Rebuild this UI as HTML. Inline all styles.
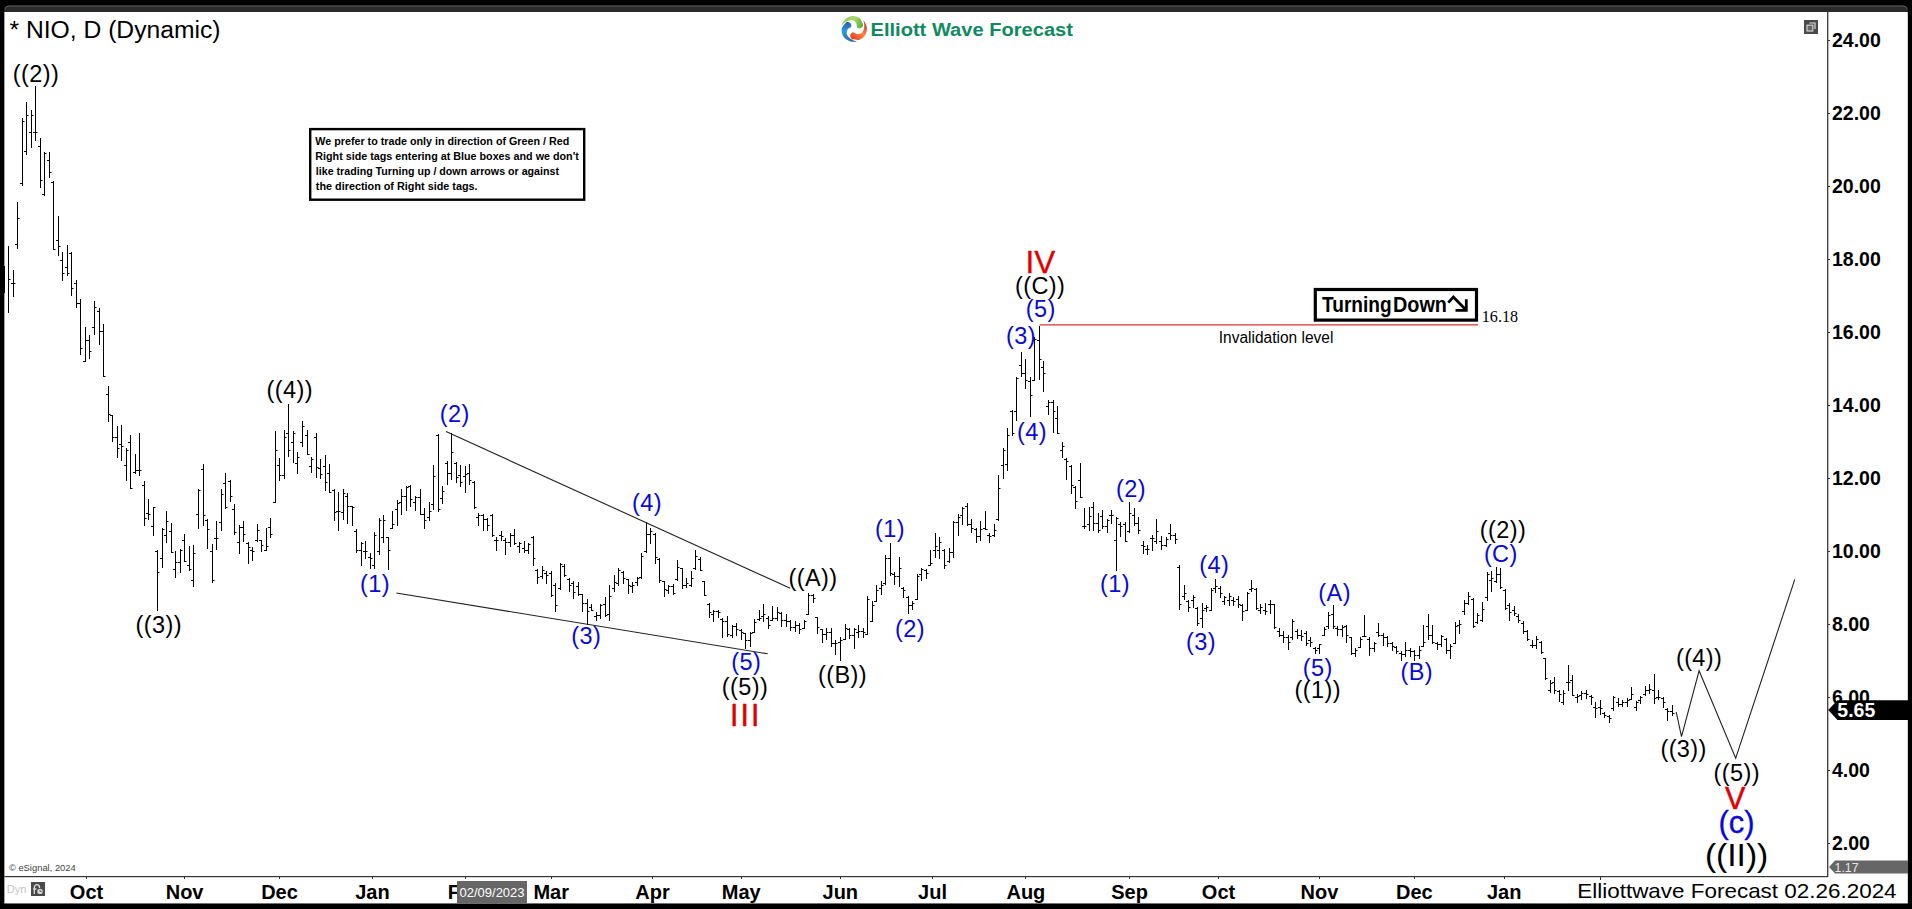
<!DOCTYPE html>
<html><head><meta charset="utf-8"><title>NIO Elliott Wave Chart</title>
<style>
html,body{margin:0;padding:0;background:#000;}
body{width:1912px;height:909px;overflow:hidden;position:relative;}
svg{display:block;position:absolute;left:0;top:0;}
svg text{font-family:"Liberation Sans",Arial,sans-serif;}
.serif{font-family:"Liberation Serif","Times New Roman",serif !important;}
</style></head><body>
<svg width="1912" height="909" viewBox="0 0 1912 909">
<rect x="0" y="0" width="1912" height="909" fill="#000"/>
<!-- window frame -->
<path d="M4.4 903.4 V10 Q4.4 5.5 9 5.5 H1903 Q1907.8 5.5 1907.8 10 V903.4 Z" fill="#2a2a2a"/>
<path d="M5 9.5 Q5 6 9 6 H1903 Q1907 6 1907 9.5" fill="none" stroke="#5a5a5a" stroke-width="1"/>
<rect x="4.4" y="12" width="1903.4" height="891.4" fill="#fff"/>
<!-- axes -->
<rect x="1827" y="12" width="1.4" height="865" fill="#444"/>
<rect x="4.5" y="876" width="1823.5" height="1.2" fill="#333"/>
<g fill="#000">
<rect x="1828" y="843" width="2" height="1" fill="#333"/>
<text x="1832" y="850.0" font-size="19.5" font-weight="bold">2.00</text>
<rect x="1828" y="770" width="2" height="1" fill="#333"/>
<text x="1832" y="777.0" font-size="19.5" font-weight="bold">4.00</text>
<rect x="1828" y="697" width="2" height="1" fill="#333"/>
<text x="1832" y="704.0" font-size="19.5" font-weight="bold">6.00</text>
<rect x="1828" y="624" width="2" height="1" fill="#333"/>
<text x="1832" y="631.0" font-size="19.5" font-weight="bold">8.00</text>
<rect x="1828" y="551" width="2" height="1" fill="#333"/>
<text x="1832" y="558.0" font-size="19.5" font-weight="bold">10.00</text>
<rect x="1828" y="478" width="2" height="1" fill="#333"/>
<text x="1832" y="485.0" font-size="19.5" font-weight="bold">12.00</text>
<rect x="1828" y="405" width="2" height="1" fill="#333"/>
<text x="1832" y="412.0" font-size="19.5" font-weight="bold">14.00</text>
<rect x="1828" y="332" width="2" height="1" fill="#333"/>
<text x="1832" y="339.0" font-size="19.5" font-weight="bold">16.00</text>
<rect x="1828" y="259" width="2" height="1" fill="#333"/>
<text x="1832" y="266.0" font-size="19.5" font-weight="bold">18.00</text>
<rect x="1828" y="186" width="2" height="1" fill="#333"/>
<text x="1832" y="193.0" font-size="19.5" font-weight="bold">20.00</text>
<rect x="1828" y="113" width="2" height="1" fill="#333"/>
<text x="1832" y="120.0" font-size="19.5" font-weight="bold">22.00</text>
<rect x="1828" y="40" width="2" height="1" fill="#333"/>
<text x="1832" y="47.0" font-size="19.5" font-weight="bold">24.00</text>
<rect x="86" y="877" width="1" height="2" fill="#333"/>
<text x="86.5" y="898.6" text-anchor="middle" font-size="20" font-weight="bold">Oct</text>
<rect x="184" y="877" width="1" height="2" fill="#333"/>
<text x="184.6" y="898.6" text-anchor="middle" font-size="20" font-weight="bold">Nov</text>
<rect x="279" y="877" width="1" height="2" fill="#333"/>
<text x="279.5" y="898.6" text-anchor="middle" font-size="20" font-weight="bold">Dec</text>
<rect x="372" y="877" width="1" height="2" fill="#333"/>
<text x="372.4" y="898.6" text-anchor="middle" font-size="20" font-weight="bold">Jan</text>
<rect x="465" y="877" width="1" height="2" fill="#333"/>
<text x="465.6" y="898.6" text-anchor="middle" font-size="20" font-weight="bold">Feb</text>
<rect x="551" y="877" width="1" height="2" fill="#333"/>
<text x="551.2" y="898.6" text-anchor="middle" font-size="20" font-weight="bold">Mar</text>
<rect x="652" y="877" width="1" height="2" fill="#333"/>
<text x="652.5" y="898.6" text-anchor="middle" font-size="20" font-weight="bold">Apr</text>
<rect x="741" y="877" width="1" height="2" fill="#333"/>
<text x="741.2" y="898.6" text-anchor="middle" font-size="20" font-weight="bold">May</text>
<rect x="840" y="877" width="1" height="2" fill="#333"/>
<text x="840.3" y="898.6" text-anchor="middle" font-size="20" font-weight="bold">Jun</text>
<rect x="932" y="877" width="1" height="2" fill="#333"/>
<text x="932.5" y="898.6" text-anchor="middle" font-size="20" font-weight="bold">Jul</text>
<rect x="1025" y="877" width="1" height="2" fill="#333"/>
<text x="1025.9" y="898.6" text-anchor="middle" font-size="20" font-weight="bold">Aug</text>
<rect x="1129" y="877" width="1" height="2" fill="#333"/>
<text x="1129.6" y="898.6" text-anchor="middle" font-size="20" font-weight="bold">Sep</text>
<rect x="1218" y="877" width="1" height="2" fill="#333"/>
<text x="1218.5" y="898.6" text-anchor="middle" font-size="20" font-weight="bold">Oct</text>
<rect x="1319" y="877" width="1" height="2" fill="#333"/>
<text x="1319.4" y="898.6" text-anchor="middle" font-size="20" font-weight="bold">Nov</text>
<rect x="1414" y="877" width="1" height="2" fill="#333"/>
<text x="1414.3" y="898.6" text-anchor="middle" font-size="20" font-weight="bold">Dec</text>
<rect x="1504" y="877" width="1" height="2" fill="#333"/>
<text x="1504.2" y="898.6" text-anchor="middle" font-size="20" font-weight="bold">Jan</text>
<rect x="1600" y="877" width="1" height="2" fill="#333"/>
</g>
<!-- title -->
<text x="9.5" y="38" font-size="23.5" fill="#000" textLength="211" lengthAdjust="spacingAndGlyphs">* NIO, D (Dynamic)</text>
<!-- logo -->
<g transform="translate(853.9 28.9)">
<defs>
<linearGradient id="gG" gradientUnits="userSpaceOnUse" x1="-11" y1="-8" x2="8" y2="-2"><stop offset="0" stop-color="#9ccf62"/><stop offset="0.55" stop-color="#a6d36a"/><stop offset="1" stop-color="#55b53a"/></linearGradient>
<linearGradient id="gB" gradientUnits="userSpaceOnUse" x1="-6" y1="-7" x2="-4" y2="12"><stop offset="0" stop-color="#2c55a6"/><stop offset="0.45" stop-color="#2f9ad8"/><stop offset="1" stop-color="#2a6fb0"/></linearGradient>
<linearGradient id="gR" gradientUnits="userSpaceOnUse" x1="-4" y1="8" x2="11" y2="-7"><stop offset="0" stop-color="#ee3a1e"/><stop offset="0.55" stop-color="#f58a4a"/><stop offset="1" stop-color="#cf2a2a"/></linearGradient>
</defs>
<path d="M-3.40 5.66 C-3.68 6.57 -3.63 8.19 -3.09 8.98 C-2.56 9.77 -1.65 10.10 -0.18 10.40 C1.29 10.70 3.77 11.52 5.73 10.77 C7.69 10.02 10.39 8.00 11.58 5.90 C12.77 3.81 13.18 0.58 12.87 -1.81 C12.57 -4.20 10.15 -8.03 9.74 -8.46 C9.32 -8.90 10.38 -5.88 10.40 -4.42 C10.43 -2.95 10.37 -1.09 9.89 0.35 C9.41 1.78 8.60 3.35 7.52 4.17 C6.44 4.99 4.61 5.33 3.43 5.28 C2.26 5.23 1.28 4.16 0.48 3.87 C-0.33 3.58 -0.78 3.23 -1.42 3.52 C-2.07 3.82 -3.12 4.75 -3.40 5.66Z" fill="url(#gR)"/>
<path d="M-3.50 -5.60 C-4.18 -6.26 -5.65 -6.95 -6.60 -6.83 C-7.55 -6.71 -8.25 -6.06 -9.18 -4.88 C-10.12 -3.71 -11.98 -1.87 -12.20 0.21 C-12.42 2.30 -11.84 5.63 -10.52 7.64 C-9.19 9.65 -6.51 11.48 -4.23 12.29 C-1.96 13.10 2.55 12.69 3.12 12.52 C3.69 12.35 0.53 11.92 -0.79 11.27 C-2.11 10.63 -3.74 9.74 -4.80 8.66 C-5.86 7.58 -6.89 6.14 -7.13 4.81 C-7.37 3.48 -6.84 1.68 -6.27 0.66 C-5.69 -0.37 -4.29 -0.75 -3.66 -1.33 C-3.04 -1.92 -2.52 -2.16 -2.49 -2.87 C-2.47 -3.58 -2.81 -4.94 -3.50 -5.60Z" fill="url(#gB)"/>
<path d="M6.57 -0.58 C7.47 -0.88 8.76 -1.88 9.08 -2.78 C9.41 -3.68 9.14 -4.60 8.52 -5.97 C7.90 -7.33 7.11 -9.82 5.35 -10.97 C3.59 -12.11 0.36 -13.11 -2.03 -12.84 C-4.43 -12.57 -7.27 -11.01 -9.03 -9.35 C-10.79 -7.70 -12.46 -3.49 -12.57 -2.90 C-12.68 -2.31 -10.86 -4.94 -9.69 -5.82 C-8.51 -6.70 -6.98 -7.75 -5.54 -8.21 C-4.10 -8.66 -2.35 -8.92 -1.05 -8.54 C0.25 -8.15 1.61 -6.86 2.26 -5.88 C2.91 -4.90 2.61 -3.49 2.85 -2.66 C3.09 -1.83 3.07 -1.27 3.69 -0.92 C4.31 -0.57 5.68 -0.27 6.57 -0.58Z" fill="url(#gG)"/>
</g>
<text x="870.5" y="36.2" font-size="18" font-weight="bold" fill="#108a5e" textLength="202.5" lengthAdjust="spacingAndGlyphs">Elliott Wave Forecast</text>
<!-- top-right icon -->
<rect x="1804" y="20" width="14" height="14" fill="#4a4a4a"/>
<path d="M1809.5 23 H1815 V29" fill="none" stroke="#ddd" stroke-width="1.2"/>
<rect x="1807" y="25.2" width="5.8" height="5.8" fill="#666" stroke="#d0d0d0" stroke-width="1.2"/>
<!-- bars -->
<g fill="#000" shape-rendering="crispEdges">
<rect x="4" y="266" width="1" height="27"/>
<rect x="8" y="246" width="1" height="67"/>
<rect x="9" y="279" width="1.5" height="1" shape-rendering="auto"/>
<rect x="13" y="270" width="1" height="27"/>
<rect x="11" y="283" width="2" height="1"/>
<rect x="14" y="283" width="1.5" height="1" shape-rendering="auto"/>
<rect x="17" y="202" width="1" height="47"/>
<rect x="15" y="244" width="2" height="1"/>
<rect x="18" y="218" width="1.5" height="1" shape-rendering="auto"/>
<rect x="22" y="118" width="1" height="68"/>
<rect x="20" y="183" width="2" height="1"/>
<rect x="23" y="121" width="1.5" height="1" shape-rendering="auto"/>
<rect x="26" y="102" width="1" height="53"/>
<rect x="24" y="151" width="2" height="1"/>
<rect x="27" y="115" width="1.5" height="1" shape-rendering="auto"/>
<rect x="31" y="110" width="1" height="38"/>
<rect x="29" y="132" width="2" height="1"/>
<rect x="32" y="115" width="1.5" height="1" shape-rendering="auto"/>
<rect x="35" y="86" width="1" height="55"/>
<rect x="33" y="132" width="2" height="1"/>
<rect x="36" y="132" width="1.5" height="1" shape-rendering="auto"/>
<rect x="40" y="138" width="1" height="50"/>
<rect x="38" y="146" width="2" height="1"/>
<rect x="41" y="180" width="1.5" height="1" shape-rendering="auto"/>
<rect x="44" y="152" width="1" height="44"/>
<rect x="42" y="194" width="2" height="1"/>
<rect x="45" y="153" width="1.5" height="1" shape-rendering="auto"/>
<rect x="49" y="152" width="1" height="26"/>
<rect x="47" y="160" width="2" height="1"/>
<rect x="50" y="172" width="1.5" height="1" shape-rendering="auto"/>
<rect x="53" y="181" width="1" height="69"/>
<rect x="51" y="182" width="2" height="1"/>
<rect x="54" y="249" width="1.5" height="1" shape-rendering="auto"/>
<rect x="58" y="216" width="1" height="40"/>
<rect x="56" y="240" width="2" height="1"/>
<rect x="59" y="246" width="1.5" height="1" shape-rendering="auto"/>
<rect x="62" y="252" width="1" height="29"/>
<rect x="60" y="260" width="2" height="1"/>
<rect x="63" y="273" width="1.5" height="1" shape-rendering="auto"/>
<rect x="67" y="245" width="1" height="31"/>
<rect x="65" y="267" width="2" height="1"/>
<rect x="68" y="273" width="1.5" height="1" shape-rendering="auto"/>
<rect x="71" y="252" width="1" height="44"/>
<rect x="69" y="253" width="2" height="1"/>
<rect x="72" y="288" width="1.5" height="1" shape-rendering="auto"/>
<rect x="76" y="280" width="1" height="28"/>
<rect x="74" y="283" width="2" height="1"/>
<rect x="77" y="303" width="1.5" height="1" shape-rendering="auto"/>
<rect x="80" y="299" width="1" height="56"/>
<rect x="78" y="303" width="2" height="1"/>
<rect x="81" y="348" width="1.5" height="1" shape-rendering="auto"/>
<rect x="85" y="327" width="1" height="35"/>
<rect x="83" y="361" width="2" height="1"/>
<rect x="86" y="340" width="1.5" height="1" shape-rendering="auto"/>
<rect x="89" y="335" width="1" height="24"/>
<rect x="87" y="340" width="2" height="1"/>
<rect x="90" y="351" width="1.5" height="1" shape-rendering="auto"/>
<rect x="94" y="301" width="1" height="34"/>
<rect x="92" y="327" width="2" height="1"/>
<rect x="95" y="307" width="1.5" height="1" shape-rendering="auto"/>
<rect x="99" y="308" width="1" height="37"/>
<rect x="97" y="311" width="2" height="1"/>
<rect x="100" y="331" width="1.5" height="1" shape-rendering="auto"/>
<rect x="103" y="324" width="1" height="53"/>
<rect x="101" y="331" width="2" height="1"/>
<rect x="104" y="376" width="1.5" height="1" shape-rendering="auto"/>
<rect x="108" y="386" width="1" height="36"/>
<rect x="106" y="394" width="2" height="1"/>
<rect x="109" y="414" width="1.5" height="1" shape-rendering="auto"/>
<rect x="112" y="415" width="1" height="27"/>
<rect x="110" y="415" width="2" height="1"/>
<rect x="113" y="437" width="1.5" height="1" shape-rendering="auto"/>
<rect x="117" y="426" width="1" height="32"/>
<rect x="115" y="437" width="2" height="1"/>
<rect x="118" y="448" width="1.5" height="1" shape-rendering="auto"/>
<rect x="121" y="425" width="1" height="36"/>
<rect x="119" y="444" width="2" height="1"/>
<rect x="122" y="446" width="1.5" height="1" shape-rendering="auto"/>
<rect x="126" y="448" width="1" height="33"/>
<rect x="124" y="465" width="2" height="1"/>
<rect x="127" y="450" width="1.5" height="1" shape-rendering="auto"/>
<rect x="130" y="435" width="1" height="54"/>
<rect x="128" y="442" width="2" height="1"/>
<rect x="131" y="488" width="1.5" height="1" shape-rendering="auto"/>
<rect x="135" y="454" width="1" height="20"/>
<rect x="133" y="472" width="2" height="1"/>
<rect x="136" y="470" width="1.5" height="1" shape-rendering="auto"/>
<rect x="139" y="433" width="1" height="43"/>
<rect x="137" y="470" width="2" height="1"/>
<rect x="140" y="470" width="1.5" height="1" shape-rendering="auto"/>
<rect x="144" y="481" width="1" height="45"/>
<rect x="142" y="485" width="2" height="1"/>
<rect x="145" y="518" width="1.5" height="1" shape-rendering="auto"/>
<rect x="148" y="499" width="1" height="21"/>
<rect x="146" y="513" width="2" height="1"/>
<rect x="149" y="514" width="1.5" height="1" shape-rendering="auto"/>
<rect x="153" y="507" width="1" height="29"/>
<rect x="151" y="526" width="2" height="1"/>
<rect x="154" y="507" width="1.5" height="1" shape-rendering="auto"/>
<rect x="157" y="550" width="1" height="61"/>
<rect x="155" y="551" width="2" height="1"/>
<rect x="158" y="572" width="1.5" height="1" shape-rendering="auto"/>
<rect x="162" y="528" width="1" height="40"/>
<rect x="160" y="558" width="2" height="1"/>
<rect x="163" y="529" width="1.5" height="1" shape-rendering="auto"/>
<rect x="166" y="511" width="1" height="32"/>
<rect x="164" y="535" width="2" height="1"/>
<rect x="167" y="521" width="1.5" height="1" shape-rendering="auto"/>
<rect x="171" y="523" width="1" height="30"/>
<rect x="169" y="531" width="2" height="1"/>
<rect x="172" y="552" width="1.5" height="1" shape-rendering="auto"/>
<rect x="175" y="551" width="1" height="27"/>
<rect x="173" y="569" width="2" height="1"/>
<rect x="176" y="562" width="1.5" height="1" shape-rendering="auto"/>
<rect x="180" y="549" width="1" height="24"/>
<rect x="178" y="562" width="2" height="1"/>
<rect x="181" y="550" width="1.5" height="1" shape-rendering="auto"/>
<rect x="184" y="534" width="1" height="28"/>
<rect x="182" y="540" width="2" height="1"/>
<rect x="185" y="561" width="1.5" height="1" shape-rendering="auto"/>
<rect x="189" y="546" width="1" height="25"/>
<rect x="187" y="565" width="2" height="1"/>
<rect x="190" y="569" width="1.5" height="1" shape-rendering="auto"/>
<rect x="193" y="545" width="1" height="42"/>
<rect x="191" y="580" width="2" height="1"/>
<rect x="194" y="553" width="1.5" height="1" shape-rendering="auto"/>
<rect x="198" y="489" width="1" height="40"/>
<rect x="196" y="514" width="2" height="1"/>
<rect x="199" y="490" width="1.5" height="1" shape-rendering="auto"/>
<rect x="203" y="464" width="1" height="62"/>
<rect x="201" y="469" width="2" height="1"/>
<rect x="204" y="515" width="1.5" height="1" shape-rendering="auto"/>
<rect x="207" y="519" width="1" height="30"/>
<rect x="205" y="520" width="2" height="1"/>
<rect x="208" y="529" width="1.5" height="1" shape-rendering="auto"/>
<rect x="212" y="544" width="1" height="39"/>
<rect x="210" y="551" width="2" height="1"/>
<rect x="213" y="580" width="1.5" height="1" shape-rendering="auto"/>
<rect x="216" y="521" width="1" height="29"/>
<rect x="214" y="538" width="2" height="1"/>
<rect x="217" y="538" width="1.5" height="1" shape-rendering="auto"/>
<rect x="221" y="489" width="1" height="42"/>
<rect x="219" y="522" width="2" height="1"/>
<rect x="222" y="494" width="1.5" height="1" shape-rendering="auto"/>
<rect x="225" y="473" width="1" height="36"/>
<rect x="223" y="483" width="2" height="1"/>
<rect x="226" y="507" width="1.5" height="1" shape-rendering="auto"/>
<rect x="230" y="480" width="1" height="22"/>
<rect x="228" y="481" width="2" height="1"/>
<rect x="231" y="496" width="1.5" height="1" shape-rendering="auto"/>
<rect x="234" y="504" width="1" height="31"/>
<rect x="232" y="509" width="2" height="1"/>
<rect x="235" y="532" width="1.5" height="1" shape-rendering="auto"/>
<rect x="239" y="525" width="1" height="29"/>
<rect x="237" y="542" width="2" height="1"/>
<rect x="240" y="527" width="1.5" height="1" shape-rendering="auto"/>
<rect x="243" y="521" width="1" height="21"/>
<rect x="241" y="527" width="2" height="1"/>
<rect x="244" y="534" width="1.5" height="1" shape-rendering="auto"/>
<rect x="248" y="542" width="1" height="22"/>
<rect x="246" y="543" width="2" height="1"/>
<rect x="249" y="547" width="1.5" height="1" shape-rendering="auto"/>
<rect x="252" y="547" width="1" height="14"/>
<rect x="250" y="550" width="2" height="1"/>
<rect x="253" y="551" width="1.5" height="1" shape-rendering="auto"/>
<rect x="257" y="524" width="1" height="18"/>
<rect x="255" y="540" width="2" height="1"/>
<rect x="258" y="530" width="1.5" height="1" shape-rendering="auto"/>
<rect x="261" y="540" width="1" height="12"/>
<rect x="259" y="540" width="2" height="1"/>
<rect x="262" y="545" width="1.5" height="1" shape-rendering="auto"/>
<rect x="266" y="528" width="1" height="23"/>
<rect x="264" y="550" width="2" height="1"/>
<rect x="267" y="546" width="1.5" height="1" shape-rendering="auto"/>
<rect x="270" y="518" width="1" height="20"/>
<rect x="268" y="527" width="2" height="1"/>
<rect x="271" y="534" width="1.5" height="1" shape-rendering="auto"/>
<rect x="275" y="431" width="1" height="72"/>
<rect x="273" y="502" width="2" height="1"/>
<rect x="276" y="450" width="1.5" height="1" shape-rendering="auto"/>
<rect x="279" y="458" width="1" height="23"/>
<rect x="277" y="465" width="2" height="1"/>
<rect x="280" y="475" width="1.5" height="1" shape-rendering="auto"/>
<rect x="284" y="430" width="1" height="49"/>
<rect x="282" y="475" width="2" height="1"/>
<rect x="285" y="437" width="1.5" height="1" shape-rendering="auto"/>
<rect x="288" y="404" width="1" height="53"/>
<rect x="286" y="433" width="2" height="1"/>
<rect x="289" y="450" width="1.5" height="1" shape-rendering="auto"/>
<rect x="293" y="431" width="1" height="32"/>
<rect x="291" y="442" width="2" height="1"/>
<rect x="294" y="433" width="1.5" height="1" shape-rendering="auto"/>
<rect x="297" y="452" width="1" height="22"/>
<rect x="295" y="463" width="2" height="1"/>
<rect x="298" y="457" width="1.5" height="1" shape-rendering="auto"/>
<rect x="302" y="421" width="1" height="26"/>
<rect x="300" y="442" width="2" height="1"/>
<rect x="303" y="426" width="1.5" height="1" shape-rendering="auto"/>
<rect x="307" y="430" width="1" height="25"/>
<rect x="305" y="435" width="2" height="1"/>
<rect x="308" y="454" width="1.5" height="1" shape-rendering="auto"/>
<rect x="311" y="457" width="1" height="16"/>
<rect x="309" y="466" width="2" height="1"/>
<rect x="312" y="459" width="1.5" height="1" shape-rendering="auto"/>
<rect x="316" y="433" width="1" height="45"/>
<rect x="314" y="437" width="2" height="1"/>
<rect x="317" y="467" width="1.5" height="1" shape-rendering="auto"/>
<rect x="320" y="459" width="1" height="20"/>
<rect x="318" y="468" width="2" height="1"/>
<rect x="321" y="474" width="1.5" height="1" shape-rendering="auto"/>
<rect x="325" y="455" width="1" height="36"/>
<rect x="323" y="466" width="2" height="1"/>
<rect x="326" y="482" width="1.5" height="1" shape-rendering="auto"/>
<rect x="329" y="464" width="1" height="29"/>
<rect x="327" y="473" width="2" height="1"/>
<rect x="330" y="492" width="1.5" height="1" shape-rendering="auto"/>
<rect x="334" y="489" width="1" height="32"/>
<rect x="332" y="490" width="2" height="1"/>
<rect x="335" y="512" width="1.5" height="1" shape-rendering="auto"/>
<rect x="338" y="492" width="1" height="39"/>
<rect x="336" y="511" width="2" height="1"/>
<rect x="339" y="511" width="1.5" height="1" shape-rendering="auto"/>
<rect x="343" y="489" width="1" height="31"/>
<rect x="341" y="512" width="2" height="1"/>
<rect x="344" y="493" width="1.5" height="1" shape-rendering="auto"/>
<rect x="347" y="493" width="1" height="31"/>
<rect x="345" y="496" width="2" height="1"/>
<rect x="348" y="506" width="1.5" height="1" shape-rendering="auto"/>
<rect x="352" y="506" width="1" height="20"/>
<rect x="350" y="506" width="2" height="1"/>
<rect x="353" y="507" width="1.5" height="1" shape-rendering="auto"/>
<rect x="356" y="529" width="1" height="24"/>
<rect x="354" y="531" width="2" height="1"/>
<rect x="357" y="550" width="1.5" height="1" shape-rendering="auto"/>
<rect x="361" y="542" width="1" height="24"/>
<rect x="359" y="550" width="2" height="1"/>
<rect x="362" y="543" width="1.5" height="1" shape-rendering="auto"/>
<rect x="365" y="541" width="1" height="18"/>
<rect x="363" y="551" width="2" height="1"/>
<rect x="366" y="551" width="1.5" height="1" shape-rendering="auto"/>
<rect x="370" y="553" width="1" height="16"/>
<rect x="368" y="557" width="2" height="1"/>
<rect x="371" y="558" width="1.5" height="1" shape-rendering="auto"/>
<rect x="374" y="532" width="1" height="37"/>
<rect x="372" y="565" width="2" height="1"/>
<rect x="375" y="535" width="1.5" height="1" shape-rendering="auto"/>
<rect x="379" y="518" width="1" height="37"/>
<rect x="377" y="551" width="2" height="1"/>
<rect x="380" y="520" width="1.5" height="1" shape-rendering="auto"/>
<rect x="383" y="515" width="1" height="28"/>
<rect x="381" y="537" width="2" height="1"/>
<rect x="384" y="520" width="1.5" height="1" shape-rendering="auto"/>
<rect x="388" y="537" width="1" height="33"/>
<rect x="386" y="537" width="2" height="1"/>
<rect x="389" y="550" width="1.5" height="1" shape-rendering="auto"/>
<rect x="392" y="511" width="1" height="18"/>
<rect x="390" y="528" width="2" height="1"/>
<rect x="393" y="524" width="1.5" height="1" shape-rendering="auto"/>
<rect x="397" y="500" width="1" height="26"/>
<rect x="395" y="509" width="2" height="1"/>
<rect x="398" y="503" width="1.5" height="1" shape-rendering="auto"/>
<rect x="401" y="489" width="1" height="26"/>
<rect x="399" y="502" width="2" height="1"/>
<rect x="402" y="496" width="1.5" height="1" shape-rendering="auto"/>
<rect x="406" y="486" width="1" height="25"/>
<rect x="404" y="496" width="2" height="1"/>
<rect x="407" y="487" width="1.5" height="1" shape-rendering="auto"/>
<rect x="410" y="485" width="1" height="22"/>
<rect x="408" y="486" width="2" height="1"/>
<rect x="411" y="499" width="1.5" height="1" shape-rendering="auto"/>
<rect x="415" y="496" width="1" height="15"/>
<rect x="413" y="502" width="2" height="1"/>
<rect x="416" y="497" width="1.5" height="1" shape-rendering="auto"/>
<rect x="420" y="489" width="1" height="26"/>
<rect x="418" y="497" width="2" height="1"/>
<rect x="421" y="514" width="1.5" height="1" shape-rendering="auto"/>
<rect x="424" y="508" width="1" height="21"/>
<rect x="422" y="514" width="2" height="1"/>
<rect x="425" y="520" width="1.5" height="1" shape-rendering="auto"/>
<rect x="429" y="502" width="1" height="19"/>
<rect x="427" y="517" width="2" height="1"/>
<rect x="430" y="511" width="1.5" height="1" shape-rendering="auto"/>
<rect x="433" y="465" width="1" height="45"/>
<rect x="431" y="504" width="2" height="1"/>
<rect x="434" y="476" width="1.5" height="1" shape-rendering="auto"/>
<rect x="438" y="434" width="1" height="78"/>
<rect x="436" y="435" width="2" height="1"/>
<rect x="439" y="509" width="1.5" height="1" shape-rendering="auto"/>
<rect x="442" y="486" width="1" height="18"/>
<rect x="440" y="498" width="2" height="1"/>
<rect x="443" y="491" width="1.5" height="1" shape-rendering="auto"/>
<rect x="447" y="461" width="1" height="24"/>
<rect x="445" y="463" width="2" height="1"/>
<rect x="448" y="473" width="1.5" height="1" shape-rendering="auto"/>
<rect x="451" y="433" width="1" height="47"/>
<rect x="449" y="473" width="2" height="1"/>
<rect x="452" y="452" width="1.5" height="1" shape-rendering="auto"/>
<rect x="456" y="462" width="1" height="21"/>
<rect x="454" y="463" width="2" height="1"/>
<rect x="457" y="477" width="1.5" height="1" shape-rendering="auto"/>
<rect x="460" y="465" width="1" height="22"/>
<rect x="458" y="475" width="2" height="1"/>
<rect x="461" y="482" width="1.5" height="1" shape-rendering="auto"/>
<rect x="465" y="466" width="1" height="27"/>
<rect x="463" y="476" width="2" height="1"/>
<rect x="466" y="474" width="1.5" height="1" shape-rendering="auto"/>
<rect x="469" y="464" width="1" height="21"/>
<rect x="467" y="473" width="2" height="1"/>
<rect x="470" y="480" width="1.5" height="1" shape-rendering="auto"/>
<rect x="474" y="481" width="1" height="28"/>
<rect x="472" y="482" width="2" height="1"/>
<rect x="475" y="507" width="1.5" height="1" shape-rendering="auto"/>
<rect x="478" y="513" width="1" height="13"/>
<rect x="476" y="517" width="2" height="1"/>
<rect x="479" y="515" width="1.5" height="1" shape-rendering="auto"/>
<rect x="483" y="514" width="1" height="17"/>
<rect x="481" y="515" width="2" height="1"/>
<rect x="484" y="519" width="1.5" height="1" shape-rendering="auto"/>
<rect x="487" y="518" width="1" height="13"/>
<rect x="485" y="519" width="2" height="1"/>
<rect x="488" y="525" width="1.5" height="1" shape-rendering="auto"/>
<rect x="492" y="514" width="1" height="23"/>
<rect x="490" y="515" width="2" height="1"/>
<rect x="493" y="535" width="1.5" height="1" shape-rendering="auto"/>
<rect x="496" y="537" width="1" height="14"/>
<rect x="494" y="540" width="2" height="1"/>
<rect x="497" y="540" width="1.5" height="1" shape-rendering="auto"/>
<rect x="501" y="531" width="1" height="10"/>
<rect x="499" y="535" width="2" height="1"/>
<rect x="502" y="536" width="1.5" height="1" shape-rendering="auto"/>
<rect x="505" y="538" width="1" height="17"/>
<rect x="503" y="540" width="2" height="1"/>
<rect x="506" y="542" width="1.5" height="1" shape-rendering="auto"/>
<rect x="510" y="533" width="1" height="14"/>
<rect x="508" y="542" width="2" height="1"/>
<rect x="511" y="535" width="1.5" height="1" shape-rendering="auto"/>
<rect x="514" y="529" width="1" height="16"/>
<rect x="512" y="535" width="2" height="1"/>
<rect x="515" y="543" width="1.5" height="1" shape-rendering="auto"/>
<rect x="519" y="542" width="1" height="11"/>
<rect x="517" y="546" width="2" height="1"/>
<rect x="520" y="543" width="1.5" height="1" shape-rendering="auto"/>
<rect x="524" y="541" width="1" height="12"/>
<rect x="522" y="548" width="2" height="1"/>
<rect x="525" y="550" width="1.5" height="1" shape-rendering="auto"/>
<rect x="528" y="543" width="1" height="11"/>
<rect x="526" y="550" width="2" height="1"/>
<rect x="529" y="544" width="1.5" height="1" shape-rendering="auto"/>
<rect x="533" y="536" width="1" height="30"/>
<rect x="531" y="537" width="2" height="1"/>
<rect x="534" y="558" width="1.5" height="1" shape-rendering="auto"/>
<rect x="537" y="569" width="1" height="15"/>
<rect x="535" y="570" width="2" height="1"/>
<rect x="538" y="577" width="1.5" height="1" shape-rendering="auto"/>
<rect x="542" y="566" width="1" height="13"/>
<rect x="540" y="576" width="2" height="1"/>
<rect x="543" y="570" width="1.5" height="1" shape-rendering="auto"/>
<rect x="546" y="571" width="1" height="13"/>
<rect x="544" y="573" width="2" height="1"/>
<rect x="547" y="575" width="1.5" height="1" shape-rendering="auto"/>
<rect x="551" y="571" width="1" height="26"/>
<rect x="549" y="573" width="2" height="1"/>
<rect x="552" y="595" width="1.5" height="1" shape-rendering="auto"/>
<rect x="555" y="583" width="1" height="29"/>
<rect x="553" y="585" width="2" height="1"/>
<rect x="556" y="605" width="1.5" height="1" shape-rendering="auto"/>
<rect x="560" y="563" width="1" height="27"/>
<rect x="558" y="588" width="2" height="1"/>
<rect x="561" y="564" width="1.5" height="1" shape-rendering="auto"/>
<rect x="564" y="564" width="1" height="13"/>
<rect x="562" y="566" width="2" height="1"/>
<rect x="565" y="575" width="1.5" height="1" shape-rendering="auto"/>
<rect x="569" y="578" width="1" height="14"/>
<rect x="567" y="579" width="2" height="1"/>
<rect x="570" y="585" width="1.5" height="1" shape-rendering="auto"/>
<rect x="573" y="581" width="1" height="18"/>
<rect x="571" y="583" width="2" height="1"/>
<rect x="574" y="592" width="1.5" height="1" shape-rendering="auto"/>
<rect x="578" y="582" width="1" height="14"/>
<rect x="576" y="586" width="2" height="1"/>
<rect x="579" y="594" width="1.5" height="1" shape-rendering="auto"/>
<rect x="582" y="594" width="1" height="18"/>
<rect x="580" y="594" width="2" height="1"/>
<rect x="583" y="603" width="1.5" height="1" shape-rendering="auto"/>
<rect x="587" y="599" width="1" height="26"/>
<rect x="585" y="603" width="2" height="1"/>
<rect x="588" y="611" width="1.5" height="1" shape-rendering="auto"/>
<rect x="591" y="604" width="1" height="7"/>
<rect x="589" y="607" width="2" height="1"/>
<rect x="592" y="610" width="1.5" height="1" shape-rendering="auto"/>
<rect x="596" y="612" width="1" height="9"/>
<rect x="594" y="616" width="2" height="1"/>
<rect x="597" y="615" width="1.5" height="1" shape-rendering="auto"/>
<rect x="600" y="604" width="1" height="15"/>
<rect x="598" y="615" width="2" height="1"/>
<rect x="601" y="605" width="1.5" height="1" shape-rendering="auto"/>
<rect x="605" y="597" width="1" height="20"/>
<rect x="603" y="604" width="2" height="1"/>
<rect x="606" y="615" width="1.5" height="1" shape-rendering="auto"/>
<rect x="609" y="585" width="1" height="36"/>
<rect x="607" y="614" width="2" height="1"/>
<rect x="610" y="596" width="1.5" height="1" shape-rendering="auto"/>
<rect x="614" y="575" width="1" height="17"/>
<rect x="612" y="588" width="2" height="1"/>
<rect x="615" y="582" width="1.5" height="1" shape-rendering="auto"/>
<rect x="618" y="568" width="1" height="18"/>
<rect x="616" y="583" width="2" height="1"/>
<rect x="619" y="570" width="1.5" height="1" shape-rendering="auto"/>
<rect x="623" y="571" width="1" height="13"/>
<rect x="621" y="572" width="2" height="1"/>
<rect x="624" y="578" width="1.5" height="1" shape-rendering="auto"/>
<rect x="628" y="579" width="1" height="15"/>
<rect x="626" y="579" width="2" height="1"/>
<rect x="629" y="585" width="1.5" height="1" shape-rendering="auto"/>
<rect x="632" y="582" width="1" height="11"/>
<rect x="630" y="586" width="2" height="1"/>
<rect x="633" y="585" width="1.5" height="1" shape-rendering="auto"/>
<rect x="637" y="577" width="1" height="9"/>
<rect x="635" y="582" width="2" height="1"/>
<rect x="638" y="578" width="1.5" height="1" shape-rendering="auto"/>
<rect x="641" y="553" width="1" height="26"/>
<rect x="639" y="577" width="2" height="1"/>
<rect x="642" y="556" width="1.5" height="1" shape-rendering="auto"/>
<rect x="646" y="522" width="1" height="31"/>
<rect x="644" y="551" width="2" height="1"/>
<rect x="647" y="534" width="1.5" height="1" shape-rendering="auto"/>
<rect x="650" y="528" width="1" height="16"/>
<rect x="648" y="534" width="2" height="1"/>
<rect x="651" y="531" width="1.5" height="1" shape-rendering="auto"/>
<rect x="655" y="533" width="1" height="31"/>
<rect x="653" y="534" width="2" height="1"/>
<rect x="656" y="557" width="1.5" height="1" shape-rendering="auto"/>
<rect x="659" y="558" width="1" height="25"/>
<rect x="657" y="559" width="2" height="1"/>
<rect x="660" y="580" width="1.5" height="1" shape-rendering="auto"/>
<rect x="664" y="581" width="1" height="16"/>
<rect x="662" y="581" width="2" height="1"/>
<rect x="665" y="589" width="1.5" height="1" shape-rendering="auto"/>
<rect x="668" y="585" width="1" height="9"/>
<rect x="666" y="590" width="2" height="1"/>
<rect x="669" y="586" width="1.5" height="1" shape-rendering="auto"/>
<rect x="673" y="584" width="1" height="11"/>
<rect x="671" y="586" width="2" height="1"/>
<rect x="674" y="593" width="1.5" height="1" shape-rendering="auto"/>
<rect x="677" y="560" width="1" height="21"/>
<rect x="675" y="579" width="2" height="1"/>
<rect x="678" y="567" width="1.5" height="1" shape-rendering="auto"/>
<rect x="682" y="568" width="1" height="21"/>
<rect x="680" y="568" width="2" height="1"/>
<rect x="683" y="585" width="1.5" height="1" shape-rendering="auto"/>
<rect x="686" y="578" width="1" height="10"/>
<rect x="684" y="585" width="2" height="1"/>
<rect x="687" y="583" width="1.5" height="1" shape-rendering="auto"/>
<rect x="691" y="571" width="1" height="16"/>
<rect x="689" y="585" width="2" height="1"/>
<rect x="692" y="578" width="1.5" height="1" shape-rendering="auto"/>
<rect x="695" y="550" width="1" height="20"/>
<rect x="693" y="568" width="2" height="1"/>
<rect x="696" y="556" width="1.5" height="1" shape-rendering="auto"/>
<rect x="700" y="557" width="1" height="14"/>
<rect x="698" y="559" width="2" height="1"/>
<rect x="701" y="570" width="1.5" height="1" shape-rendering="auto"/>
<rect x="704" y="581" width="1" height="15"/>
<rect x="702" y="581" width="2" height="1"/>
<rect x="705" y="595" width="1.5" height="1" shape-rendering="auto"/>
<rect x="709" y="603" width="1" height="15"/>
<rect x="707" y="604" width="2" height="1"/>
<rect x="710" y="612" width="1.5" height="1" shape-rendering="auto"/>
<rect x="713" y="610" width="1" height="12"/>
<rect x="711" y="614" width="2" height="1"/>
<rect x="714" y="611" width="1.5" height="1" shape-rendering="auto"/>
<rect x="718" y="610" width="1" height="8"/>
<rect x="716" y="611" width="2" height="1"/>
<rect x="719" y="612" width="1.5" height="1" shape-rendering="auto"/>
<rect x="722" y="618" width="1" height="20"/>
<rect x="720" y="619" width="2" height="1"/>
<rect x="723" y="621" width="1.5" height="1" shape-rendering="auto"/>
<rect x="727" y="616" width="1" height="21"/>
<rect x="725" y="621" width="2" height="1"/>
<rect x="728" y="634" width="1.5" height="1" shape-rendering="auto"/>
<rect x="732" y="625" width="1" height="13"/>
<rect x="730" y="635" width="2" height="1"/>
<rect x="733" y="626" width="1.5" height="1" shape-rendering="auto"/>
<rect x="736" y="623" width="1" height="13"/>
<rect x="734" y="626" width="2" height="1"/>
<rect x="737" y="629" width="1.5" height="1" shape-rendering="auto"/>
<rect x="741" y="629" width="1" height="11"/>
<rect x="739" y="630" width="2" height="1"/>
<rect x="742" y="632" width="1.5" height="1" shape-rendering="auto"/>
<rect x="745" y="633" width="1" height="16"/>
<rect x="743" y="633" width="2" height="1"/>
<rect x="746" y="640" width="1.5" height="1" shape-rendering="auto"/>
<rect x="750" y="632" width="1" height="15"/>
<rect x="748" y="640" width="2" height="1"/>
<rect x="751" y="633" width="1.5" height="1" shape-rendering="auto"/>
<rect x="754" y="619" width="1" height="14"/>
<rect x="752" y="632" width="2" height="1"/>
<rect x="755" y="622" width="1.5" height="1" shape-rendering="auto"/>
<rect x="759" y="610" width="1" height="11"/>
<rect x="757" y="619" width="2" height="1"/>
<rect x="760" y="618" width="1.5" height="1" shape-rendering="auto"/>
<rect x="763" y="604" width="1" height="18"/>
<rect x="761" y="616" width="2" height="1"/>
<rect x="764" y="614" width="1.5" height="1" shape-rendering="auto"/>
<rect x="768" y="616" width="1" height="13"/>
<rect x="766" y="618" width="2" height="1"/>
<rect x="769" y="625" width="1.5" height="1" shape-rendering="auto"/>
<rect x="772" y="606" width="1" height="15"/>
<rect x="770" y="620" width="2" height="1"/>
<rect x="773" y="618" width="1.5" height="1" shape-rendering="auto"/>
<rect x="777" y="607" width="1" height="14"/>
<rect x="775" y="618" width="2" height="1"/>
<rect x="778" y="612" width="1.5" height="1" shape-rendering="auto"/>
<rect x="781" y="612" width="1" height="15"/>
<rect x="779" y="613" width="2" height="1"/>
<rect x="782" y="620" width="1.5" height="1" shape-rendering="auto"/>
<rect x="786" y="614" width="1" height="13"/>
<rect x="784" y="620" width="2" height="1"/>
<rect x="787" y="621" width="1.5" height="1" shape-rendering="auto"/>
<rect x="790" y="620" width="1" height="11"/>
<rect x="788" y="621" width="2" height="1"/>
<rect x="791" y="627" width="1.5" height="1" shape-rendering="auto"/>
<rect x="795" y="621" width="1" height="11"/>
<rect x="793" y="627" width="2" height="1"/>
<rect x="796" y="625" width="1.5" height="1" shape-rendering="auto"/>
<rect x="799" y="623" width="1" height="11"/>
<rect x="797" y="625" width="2" height="1"/>
<rect x="800" y="629" width="1.5" height="1" shape-rendering="auto"/>
<rect x="804" y="620" width="1" height="9"/>
<rect x="802" y="628" width="2" height="1"/>
<rect x="805" y="621" width="1.5" height="1" shape-rendering="auto"/>
<rect x="808" y="593" width="1" height="22"/>
<rect x="806" y="614" width="2" height="1"/>
<rect x="809" y="595" width="1.5" height="1" shape-rendering="auto"/>
<rect x="813" y="594" width="1" height="9"/>
<rect x="811" y="595" width="2" height="1"/>
<rect x="814" y="598" width="1.5" height="1" shape-rendering="auto"/>
<rect x="817" y="617" width="1" height="17"/>
<rect x="815" y="617" width="2" height="1"/>
<rect x="818" y="627" width="1.5" height="1" shape-rendering="auto"/>
<rect x="822" y="629" width="1" height="14"/>
<rect x="820" y="629" width="2" height="1"/>
<rect x="823" y="634" width="1.5" height="1" shape-rendering="auto"/>
<rect x="826" y="628" width="1" height="12"/>
<rect x="824" y="634" width="2" height="1"/>
<rect x="827" y="632" width="1.5" height="1" shape-rendering="auto"/>
<rect x="831" y="628" width="1" height="19"/>
<rect x="829" y="632" width="2" height="1"/>
<rect x="832" y="643" width="1.5" height="1" shape-rendering="auto"/>
<rect x="835" y="640" width="1" height="15"/>
<rect x="833" y="643" width="2" height="1"/>
<rect x="836" y="643" width="1.5" height="1" shape-rendering="auto"/>
<rect x="840" y="637" width="1" height="24"/>
<rect x="838" y="642" width="2" height="1"/>
<rect x="841" y="640" width="1.5" height="1" shape-rendering="auto"/>
<rect x="845" y="624" width="1" height="16"/>
<rect x="843" y="639" width="2" height="1"/>
<rect x="846" y="628" width="1.5" height="1" shape-rendering="auto"/>
<rect x="849" y="628" width="1" height="11"/>
<rect x="847" y="629" width="2" height="1"/>
<rect x="850" y="635" width="1.5" height="1" shape-rendering="auto"/>
<rect x="854" y="628" width="1" height="21"/>
<rect x="852" y="635" width="2" height="1"/>
<rect x="855" y="629" width="1.5" height="1" shape-rendering="auto"/>
<rect x="858" y="625" width="1" height="13"/>
<rect x="856" y="632" width="2" height="1"/>
<rect x="859" y="631" width="1.5" height="1" shape-rendering="auto"/>
<rect x="863" y="628" width="1" height="10"/>
<rect x="861" y="631" width="2" height="1"/>
<rect x="864" y="632" width="1.5" height="1" shape-rendering="auto"/>
<rect x="867" y="596" width="1" height="39"/>
<rect x="865" y="634" width="2" height="1"/>
<rect x="868" y="599" width="1.5" height="1" shape-rendering="auto"/>
<rect x="872" y="601" width="1" height="21"/>
<rect x="870" y="621" width="2" height="1"/>
<rect x="873" y="605" width="1.5" height="1" shape-rendering="auto"/>
<rect x="876" y="585" width="1" height="17"/>
<rect x="874" y="601" width="2" height="1"/>
<rect x="877" y="590" width="1.5" height="1" shape-rendering="auto"/>
<rect x="881" y="581" width="1" height="14"/>
<rect x="879" y="588" width="2" height="1"/>
<rect x="882" y="585" width="1.5" height="1" shape-rendering="auto"/>
<rect x="885" y="555" width="1" height="30"/>
<rect x="883" y="583" width="2" height="1"/>
<rect x="886" y="558" width="1.5" height="1" shape-rendering="auto"/>
<rect x="890" y="543" width="1" height="33"/>
<rect x="888" y="558" width="2" height="1"/>
<rect x="891" y="573" width="1.5" height="1" shape-rendering="auto"/>
<rect x="894" y="572" width="1" height="13"/>
<rect x="892" y="574" width="2" height="1"/>
<rect x="895" y="576" width="1.5" height="1" shape-rendering="auto"/>
<rect x="899" y="557" width="1" height="30"/>
<rect x="897" y="576" width="2" height="1"/>
<rect x="900" y="568" width="1.5" height="1" shape-rendering="auto"/>
<rect x="903" y="587" width="1" height="11"/>
<rect x="901" y="588" width="2" height="1"/>
<rect x="904" y="590" width="1.5" height="1" shape-rendering="auto"/>
<rect x="908" y="596" width="1" height="18"/>
<rect x="906" y="597" width="2" height="1"/>
<rect x="909" y="605" width="1.5" height="1" shape-rendering="auto"/>
<rect x="912" y="601" width="1" height="9"/>
<rect x="910" y="605" width="2" height="1"/>
<rect x="913" y="603" width="1.5" height="1" shape-rendering="auto"/>
<rect x="917" y="574" width="1" height="26"/>
<rect x="915" y="599" width="2" height="1"/>
<rect x="918" y="576" width="1.5" height="1" shape-rendering="auto"/>
<rect x="921" y="568" width="1" height="13"/>
<rect x="919" y="574" width="2" height="1"/>
<rect x="922" y="569" width="1.5" height="1" shape-rendering="auto"/>
<rect x="926" y="569" width="1" height="10"/>
<rect x="924" y="570" width="2" height="1"/>
<rect x="927" y="573" width="1.5" height="1" shape-rendering="auto"/>
<rect x="930" y="550" width="1" height="16"/>
<rect x="928" y="565" width="2" height="1"/>
<rect x="931" y="563" width="1.5" height="1" shape-rendering="auto"/>
<rect x="935" y="533" width="1" height="25"/>
<rect x="933" y="550" width="2" height="1"/>
<rect x="936" y="546" width="1.5" height="1" shape-rendering="auto"/>
<rect x="939" y="537" width="1" height="22"/>
<rect x="937" y="550" width="2" height="1"/>
<rect x="940" y="542" width="1.5" height="1" shape-rendering="auto"/>
<rect x="944" y="549" width="1" height="20"/>
<rect x="942" y="550" width="2" height="1"/>
<rect x="945" y="565" width="1.5" height="1" shape-rendering="auto"/>
<rect x="949" y="548" width="1" height="15"/>
<rect x="947" y="561" width="2" height="1"/>
<rect x="950" y="552" width="1.5" height="1" shape-rendering="auto"/>
<rect x="953" y="521" width="1" height="37"/>
<rect x="951" y="552" width="2" height="1"/>
<rect x="954" y="522" width="1.5" height="1" shape-rendering="auto"/>
<rect x="958" y="514" width="1" height="22"/>
<rect x="956" y="522" width="2" height="1"/>
<rect x="959" y="517" width="1.5" height="1" shape-rendering="auto"/>
<rect x="962" y="507" width="1" height="18"/>
<rect x="960" y="515" width="2" height="1"/>
<rect x="963" y="508" width="1.5" height="1" shape-rendering="auto"/>
<rect x="967" y="503" width="1" height="23"/>
<rect x="965" y="506" width="2" height="1"/>
<rect x="968" y="524" width="1.5" height="1" shape-rendering="auto"/>
<rect x="971" y="519" width="1" height="14"/>
<rect x="969" y="524" width="2" height="1"/>
<rect x="972" y="528" width="1.5" height="1" shape-rendering="auto"/>
<rect x="976" y="528" width="1" height="15"/>
<rect x="974" y="529" width="2" height="1"/>
<rect x="977" y="536" width="1.5" height="1" shape-rendering="auto"/>
<rect x="980" y="521" width="1" height="20"/>
<rect x="978" y="536" width="2" height="1"/>
<rect x="981" y="529" width="1.5" height="1" shape-rendering="auto"/>
<rect x="985" y="511" width="1" height="19"/>
<rect x="983" y="528" width="2" height="1"/>
<rect x="986" y="529" width="1.5" height="1" shape-rendering="auto"/>
<rect x="989" y="533" width="1" height="10"/>
<rect x="987" y="535" width="2" height="1"/>
<rect x="990" y="536" width="1.5" height="1" shape-rendering="auto"/>
<rect x="994" y="524" width="1" height="13"/>
<rect x="992" y="535" width="2" height="1"/>
<rect x="995" y="530" width="1.5" height="1" shape-rendering="auto"/>
<rect x="998" y="475" width="1" height="46"/>
<rect x="996" y="519" width="2" height="1"/>
<rect x="999" y="488" width="1.5" height="1" shape-rendering="auto"/>
<rect x="1003" y="448" width="1" height="31"/>
<rect x="1001" y="465" width="2" height="1"/>
<rect x="1004" y="450" width="1.5" height="1" shape-rendering="auto"/>
<rect x="1007" y="428" width="1" height="43"/>
<rect x="1005" y="464" width="2" height="1"/>
<rect x="1008" y="435" width="1.5" height="1" shape-rendering="auto"/>
<rect x="1012" y="410" width="1" height="26"/>
<rect x="1010" y="411" width="2" height="1"/>
<rect x="1013" y="433" width="1.5" height="1" shape-rendering="auto"/>
<rect x="1016" y="377" width="1" height="44"/>
<rect x="1014" y="411" width="2" height="1"/>
<rect x="1017" y="378" width="1.5" height="1" shape-rendering="auto"/>
<rect x="1021" y="352" width="1" height="25"/>
<rect x="1019" y="365" width="2" height="1"/>
<rect x="1022" y="373" width="1.5" height="1" shape-rendering="auto"/>
<rect x="1025" y="359" width="1" height="30"/>
<rect x="1023" y="373" width="2" height="1"/>
<rect x="1026" y="380" width="1.5" height="1" shape-rendering="auto"/>
<rect x="1030" y="377" width="1" height="40"/>
<rect x="1028" y="381" width="2" height="1"/>
<rect x="1031" y="395" width="1.5" height="1" shape-rendering="auto"/>
<rect x="1034" y="337" width="1" height="44"/>
<rect x="1032" y="380" width="2" height="1"/>
<rect x="1035" y="339" width="1.5" height="1" shape-rendering="auto"/>
<rect x="1039" y="326" width="1" height="54"/>
<rect x="1037" y="340" width="2" height="1"/>
<rect x="1040" y="359" width="1.5" height="1" shape-rendering="auto"/>
<rect x="1043" y="361" width="1" height="31"/>
<rect x="1041" y="367" width="2" height="1"/>
<rect x="1044" y="373" width="1.5" height="1" shape-rendering="auto"/>
<rect x="1048" y="400" width="1" height="15"/>
<rect x="1046" y="406" width="2" height="1"/>
<rect x="1049" y="402" width="1.5" height="1" shape-rendering="auto"/>
<rect x="1053" y="400" width="1" height="33"/>
<rect x="1051" y="402" width="2" height="1"/>
<rect x="1054" y="411" width="1.5" height="1" shape-rendering="auto"/>
<rect x="1057" y="406" width="1" height="28"/>
<rect x="1055" y="418" width="2" height="1"/>
<rect x="1058" y="433" width="1.5" height="1" shape-rendering="auto"/>
<rect x="1062" y="442" width="1" height="16"/>
<rect x="1060" y="450" width="2" height="1"/>
<rect x="1063" y="446" width="1.5" height="1" shape-rendering="auto"/>
<rect x="1066" y="458" width="1" height="22"/>
<rect x="1064" y="459" width="2" height="1"/>
<rect x="1067" y="461" width="1.5" height="1" shape-rendering="auto"/>
<rect x="1071" y="465" width="1" height="29"/>
<rect x="1069" y="466" width="2" height="1"/>
<rect x="1072" y="485" width="1.5" height="1" shape-rendering="auto"/>
<rect x="1075" y="486" width="1" height="23"/>
<rect x="1073" y="487" width="2" height="1"/>
<rect x="1076" y="501" width="1.5" height="1" shape-rendering="auto"/>
<rect x="1080" y="463" width="1" height="35"/>
<rect x="1078" y="480" width="2" height="1"/>
<rect x="1081" y="497" width="1.5" height="1" shape-rendering="auto"/>
<rect x="1084" y="508" width="1" height="21"/>
<rect x="1082" y="526" width="2" height="1"/>
<rect x="1085" y="526" width="1.5" height="1" shape-rendering="auto"/>
<rect x="1089" y="507" width="1" height="24"/>
<rect x="1087" y="524" width="2" height="1"/>
<rect x="1090" y="516" width="1.5" height="1" shape-rendering="auto"/>
<rect x="1093" y="502" width="1" height="29"/>
<rect x="1091" y="507" width="2" height="1"/>
<rect x="1094" y="523" width="1.5" height="1" shape-rendering="auto"/>
<rect x="1098" y="513" width="1" height="20"/>
<rect x="1096" y="523" width="2" height="1"/>
<rect x="1099" y="530" width="1.5" height="1" shape-rendering="auto"/>
<rect x="1102" y="510" width="1" height="19"/>
<rect x="1100" y="516" width="2" height="1"/>
<rect x="1103" y="526" width="1.5" height="1" shape-rendering="auto"/>
<rect x="1107" y="519" width="1" height="14"/>
<rect x="1105" y="526" width="2" height="1"/>
<rect x="1108" y="520" width="1.5" height="1" shape-rendering="auto"/>
<rect x="1111" y="510" width="1" height="14"/>
<rect x="1109" y="515" width="2" height="1"/>
<rect x="1112" y="515" width="1.5" height="1" shape-rendering="auto"/>
<rect x="1116" y="517" width="1" height="54"/>
<rect x="1114" y="540" width="2" height="1"/>
<rect x="1117" y="518" width="1.5" height="1" shape-rendering="auto"/>
<rect x="1120" y="522" width="1" height="15"/>
<rect x="1118" y="524" width="2" height="1"/>
<rect x="1121" y="526" width="1.5" height="1" shape-rendering="auto"/>
<rect x="1125" y="522" width="1" height="20"/>
<rect x="1123" y="524" width="2" height="1"/>
<rect x="1126" y="541" width="1.5" height="1" shape-rendering="auto"/>
<rect x="1129" y="502" width="1" height="31"/>
<rect x="1127" y="531" width="2" height="1"/>
<rect x="1130" y="513" width="1.5" height="1" shape-rendering="auto"/>
<rect x="1134" y="508" width="1" height="18"/>
<rect x="1132" y="515" width="2" height="1"/>
<rect x="1135" y="523" width="1.5" height="1" shape-rendering="auto"/>
<rect x="1138" y="517" width="1" height="17"/>
<rect x="1136" y="523" width="2" height="1"/>
<rect x="1139" y="530" width="1.5" height="1" shape-rendering="auto"/>
<rect x="1143" y="541" width="1" height="13"/>
<rect x="1141" y="545" width="2" height="1"/>
<rect x="1144" y="546" width="1.5" height="1" shape-rendering="auto"/>
<rect x="1147" y="545" width="1" height="10"/>
<rect x="1145" y="549" width="2" height="1"/>
<rect x="1148" y="549" width="1.5" height="1" shape-rendering="auto"/>
<rect x="1152" y="535" width="1" height="16"/>
<rect x="1150" y="538" width="2" height="1"/>
<rect x="1153" y="538" width="1.5" height="1" shape-rendering="auto"/>
<rect x="1156" y="519" width="1" height="25"/>
<rect x="1154" y="541" width="2" height="1"/>
<rect x="1157" y="531" width="1.5" height="1" shape-rendering="auto"/>
<rect x="1161" y="536" width="1" height="14"/>
<rect x="1159" y="541" width="2" height="1"/>
<rect x="1162" y="545" width="1.5" height="1" shape-rendering="auto"/>
<rect x="1166" y="537" width="1" height="10"/>
<rect x="1164" y="545" width="2" height="1"/>
<rect x="1167" y="539" width="1.5" height="1" shape-rendering="auto"/>
<rect x="1170" y="524" width="1" height="16"/>
<rect x="1168" y="533" width="2" height="1"/>
<rect x="1171" y="535" width="1.5" height="1" shape-rendering="auto"/>
<rect x="1175" y="533" width="1" height="11"/>
<rect x="1173" y="535" width="2" height="1"/>
<rect x="1176" y="539" width="1.5" height="1" shape-rendering="auto"/>
<rect x="1179" y="565" width="1" height="45"/>
<rect x="1177" y="567" width="2" height="1"/>
<rect x="1180" y="604" width="1.5" height="1" shape-rendering="auto"/>
<rect x="1184" y="585" width="1" height="15"/>
<rect x="1182" y="596" width="2" height="1"/>
<rect x="1185" y="593" width="1.5" height="1" shape-rendering="auto"/>
<rect x="1188" y="600" width="1" height="12"/>
<rect x="1186" y="601" width="2" height="1"/>
<rect x="1189" y="607" width="1.5" height="1" shape-rendering="auto"/>
<rect x="1193" y="595" width="1" height="13"/>
<rect x="1191" y="600" width="2" height="1"/>
<rect x="1194" y="597" width="1.5" height="1" shape-rendering="auto"/>
<rect x="1197" y="607" width="1" height="19"/>
<rect x="1195" y="608" width="2" height="1"/>
<rect x="1198" y="623" width="1.5" height="1" shape-rendering="auto"/>
<rect x="1202" y="603" width="1" height="25"/>
<rect x="1200" y="618" width="2" height="1"/>
<rect x="1203" y="610" width="1.5" height="1" shape-rendering="auto"/>
<rect x="1206" y="605" width="1" height="7"/>
<rect x="1204" y="608" width="2" height="1"/>
<rect x="1207" y="607" width="1.5" height="1" shape-rendering="auto"/>
<rect x="1211" y="588" width="1" height="23"/>
<rect x="1209" y="610" width="2" height="1"/>
<rect x="1212" y="590" width="1.5" height="1" shape-rendering="auto"/>
<rect x="1215" y="579" width="1" height="14"/>
<rect x="1213" y="588" width="2" height="1"/>
<rect x="1216" y="586" width="1.5" height="1" shape-rendering="auto"/>
<rect x="1220" y="586" width="1" height="12"/>
<rect x="1218" y="588" width="2" height="1"/>
<rect x="1221" y="593" width="1.5" height="1" shape-rendering="auto"/>
<rect x="1224" y="596" width="1" height="9"/>
<rect x="1222" y="601" width="2" height="1"/>
<rect x="1225" y="597" width="1.5" height="1" shape-rendering="auto"/>
<rect x="1229" y="593" width="1" height="13"/>
<rect x="1227" y="600" width="2" height="1"/>
<rect x="1230" y="596" width="1.5" height="1" shape-rendering="auto"/>
<rect x="1233" y="597" width="1" height="9"/>
<rect x="1231" y="600" width="2" height="1"/>
<rect x="1234" y="601" width="1.5" height="1" shape-rendering="auto"/>
<rect x="1238" y="596" width="1" height="12"/>
<rect x="1236" y="599" width="2" height="1"/>
<rect x="1239" y="604" width="1.5" height="1" shape-rendering="auto"/>
<rect x="1242" y="604" width="1" height="17"/>
<rect x="1240" y="605" width="2" height="1"/>
<rect x="1243" y="611" width="1.5" height="1" shape-rendering="auto"/>
<rect x="1247" y="592" width="1" height="19"/>
<rect x="1245" y="610" width="2" height="1"/>
<rect x="1248" y="593" width="1.5" height="1" shape-rendering="auto"/>
<rect x="1251" y="580" width="1" height="12"/>
<rect x="1249" y="589" width="2" height="1"/>
<rect x="1252" y="588" width="1.5" height="1" shape-rendering="auto"/>
<rect x="1256" y="588" width="1" height="22"/>
<rect x="1254" y="589" width="2" height="1"/>
<rect x="1257" y="608" width="1.5" height="1" shape-rendering="auto"/>
<rect x="1260" y="604" width="1" height="10"/>
<rect x="1258" y="610" width="2" height="1"/>
<rect x="1261" y="607" width="1.5" height="1" shape-rendering="auto"/>
<rect x="1265" y="603" width="1" height="12"/>
<rect x="1263" y="610" width="2" height="1"/>
<rect x="1266" y="611" width="1.5" height="1" shape-rendering="auto"/>
<rect x="1270" y="600" width="1" height="14"/>
<rect x="1268" y="604" width="2" height="1"/>
<rect x="1271" y="604" width="1.5" height="1" shape-rendering="auto"/>
<rect x="1274" y="604" width="1" height="25"/>
<rect x="1272" y="604" width="2" height="1"/>
<rect x="1275" y="627" width="1.5" height="1" shape-rendering="auto"/>
<rect x="1279" y="628" width="1" height="9"/>
<rect x="1277" y="631" width="2" height="1"/>
<rect x="1280" y="635" width="1.5" height="1" shape-rendering="auto"/>
<rect x="1283" y="631" width="1" height="12"/>
<rect x="1281" y="635" width="2" height="1"/>
<rect x="1284" y="637" width="1.5" height="1" shape-rendering="auto"/>
<rect x="1288" y="635" width="1" height="15"/>
<rect x="1286" y="637" width="2" height="1"/>
<rect x="1289" y="642" width="1.5" height="1" shape-rendering="auto"/>
<rect x="1292" y="619" width="1" height="21"/>
<rect x="1290" y="637" width="2" height="1"/>
<rect x="1293" y="621" width="1.5" height="1" shape-rendering="auto"/>
<rect x="1297" y="629" width="1" height="10"/>
<rect x="1295" y="631" width="2" height="1"/>
<rect x="1298" y="635" width="1.5" height="1" shape-rendering="auto"/>
<rect x="1301" y="630" width="1" height="11"/>
<rect x="1299" y="635" width="2" height="1"/>
<rect x="1302" y="636" width="1.5" height="1" shape-rendering="auto"/>
<rect x="1306" y="631" width="1" height="15"/>
<rect x="1304" y="633" width="2" height="1"/>
<rect x="1307" y="643" width="1.5" height="1" shape-rendering="auto"/>
<rect x="1310" y="637" width="1" height="10"/>
<rect x="1308" y="640" width="2" height="1"/>
<rect x="1311" y="642" width="1.5" height="1" shape-rendering="auto"/>
<rect x="1315" y="647" width="1" height="7"/>
<rect x="1313" y="648" width="2" height="1"/>
<rect x="1316" y="650" width="1.5" height="1" shape-rendering="auto"/>
<rect x="1319" y="644" width="1" height="10"/>
<rect x="1317" y="648" width="2" height="1"/>
<rect x="1320" y="644" width="1.5" height="1" shape-rendering="auto"/>
<rect x="1324" y="627" width="1" height="9"/>
<rect x="1322" y="635" width="2" height="1"/>
<rect x="1325" y="629" width="1.5" height="1" shape-rendering="auto"/>
<rect x="1328" y="612" width="1" height="17"/>
<rect x="1326" y="626" width="2" height="1"/>
<rect x="1329" y="615" width="1.5" height="1" shape-rendering="auto"/>
<rect x="1333" y="605" width="1" height="24"/>
<rect x="1331" y="614" width="2" height="1"/>
<rect x="1334" y="626" width="1.5" height="1" shape-rendering="auto"/>
<rect x="1337" y="626" width="1" height="10"/>
<rect x="1335" y="628" width="2" height="1"/>
<rect x="1338" y="629" width="1.5" height="1" shape-rendering="auto"/>
<rect x="1342" y="625" width="1" height="12"/>
<rect x="1340" y="629" width="2" height="1"/>
<rect x="1343" y="627" width="1.5" height="1" shape-rendering="auto"/>
<rect x="1346" y="625" width="1" height="18"/>
<rect x="1344" y="626" width="2" height="1"/>
<rect x="1347" y="635" width="1.5" height="1" shape-rendering="auto"/>
<rect x="1351" y="637" width="1" height="18"/>
<rect x="1349" y="637" width="2" height="1"/>
<rect x="1352" y="653" width="1.5" height="1" shape-rendering="auto"/>
<rect x="1355" y="648" width="1" height="9"/>
<rect x="1353" y="653" width="2" height="1"/>
<rect x="1356" y="650" width="1.5" height="1" shape-rendering="auto"/>
<rect x="1360" y="637" width="1" height="11"/>
<rect x="1358" y="647" width="2" height="1"/>
<rect x="1361" y="639" width="1.5" height="1" shape-rendering="auto"/>
<rect x="1364" y="615" width="1" height="22"/>
<rect x="1362" y="636" width="2" height="1"/>
<rect x="1365" y="636" width="1.5" height="1" shape-rendering="auto"/>
<rect x="1369" y="637" width="1" height="19"/>
<rect x="1367" y="639" width="2" height="1"/>
<rect x="1370" y="648" width="1.5" height="1" shape-rendering="auto"/>
<rect x="1374" y="642" width="1" height="10"/>
<rect x="1372" y="648" width="2" height="1"/>
<rect x="1375" y="643" width="1.5" height="1" shape-rendering="auto"/>
<rect x="1378" y="623" width="1" height="14"/>
<rect x="1376" y="632" width="2" height="1"/>
<rect x="1379" y="635" width="1.5" height="1" shape-rendering="auto"/>
<rect x="1383" y="633" width="1" height="13"/>
<rect x="1381" y="635" width="2" height="1"/>
<rect x="1384" y="637" width="1.5" height="1" shape-rendering="auto"/>
<rect x="1387" y="636" width="1" height="11"/>
<rect x="1385" y="637" width="2" height="1"/>
<rect x="1388" y="643" width="1.5" height="1" shape-rendering="auto"/>
<rect x="1392" y="642" width="1" height="9"/>
<rect x="1390" y="643" width="2" height="1"/>
<rect x="1393" y="646" width="1.5" height="1" shape-rendering="auto"/>
<rect x="1396" y="646" width="1" height="8"/>
<rect x="1394" y="647" width="2" height="1"/>
<rect x="1397" y="651" width="1.5" height="1" shape-rendering="auto"/>
<rect x="1401" y="651" width="1" height="10"/>
<rect x="1399" y="653" width="2" height="1"/>
<rect x="1402" y="654" width="1.5" height="1" shape-rendering="auto"/>
<rect x="1405" y="642" width="1" height="15"/>
<rect x="1403" y="654" width="2" height="1"/>
<rect x="1406" y="650" width="1.5" height="1" shape-rendering="auto"/>
<rect x="1410" y="648" width="1" height="9"/>
<rect x="1408" y="650" width="2" height="1"/>
<rect x="1411" y="651" width="1.5" height="1" shape-rendering="auto"/>
<rect x="1414" y="650" width="1" height="11"/>
<rect x="1412" y="651" width="2" height="1"/>
<rect x="1415" y="655" width="1.5" height="1" shape-rendering="auto"/>
<rect x="1419" y="646" width="1" height="13"/>
<rect x="1417" y="655" width="2" height="1"/>
<rect x="1420" y="650" width="1.5" height="1" shape-rendering="auto"/>
<rect x="1423" y="625" width="1" height="22"/>
<rect x="1421" y="646" width="2" height="1"/>
<rect x="1424" y="642" width="1.5" height="1" shape-rendering="auto"/>
<rect x="1428" y="614" width="1" height="26"/>
<rect x="1426" y="626" width="2" height="1"/>
<rect x="1429" y="635" width="1.5" height="1" shape-rendering="auto"/>
<rect x="1432" y="625" width="1" height="19"/>
<rect x="1430" y="635" width="2" height="1"/>
<rect x="1433" y="642" width="1.5" height="1" shape-rendering="auto"/>
<rect x="1437" y="642" width="1" height="8"/>
<rect x="1435" y="643" width="2" height="1"/>
<rect x="1438" y="644" width="1.5" height="1" shape-rendering="auto"/>
<rect x="1441" y="635" width="1" height="12"/>
<rect x="1439" y="644" width="2" height="1"/>
<rect x="1442" y="636" width="1.5" height="1" shape-rendering="auto"/>
<rect x="1446" y="638" width="1" height="16"/>
<rect x="1444" y="639" width="2" height="1"/>
<rect x="1447" y="650" width="1.5" height="1" shape-rendering="auto"/>
<rect x="1450" y="644" width="1" height="15"/>
<rect x="1448" y="650" width="2" height="1"/>
<rect x="1451" y="646" width="1.5" height="1" shape-rendering="auto"/>
<rect x="1455" y="622" width="1" height="22"/>
<rect x="1453" y="643" width="2" height="1"/>
<rect x="1456" y="626" width="1.5" height="1" shape-rendering="auto"/>
<rect x="1459" y="620" width="1" height="14"/>
<rect x="1457" y="625" width="2" height="1"/>
<rect x="1460" y="624" width="1.5" height="1" shape-rendering="auto"/>
<rect x="1464" y="600" width="1" height="15"/>
<rect x="1462" y="611" width="2" height="1"/>
<rect x="1465" y="603" width="1.5" height="1" shape-rendering="auto"/>
<rect x="1468" y="592" width="1" height="13"/>
<rect x="1466" y="603" width="2" height="1"/>
<rect x="1469" y="596" width="1.5" height="1" shape-rendering="auto"/>
<rect x="1473" y="598" width="1" height="30"/>
<rect x="1471" y="599" width="2" height="1"/>
<rect x="1474" y="626" width="1.5" height="1" shape-rendering="auto"/>
<rect x="1477" y="613" width="1" height="11"/>
<rect x="1475" y="622" width="2" height="1"/>
<rect x="1478" y="615" width="1.5" height="1" shape-rendering="auto"/>
<rect x="1482" y="602" width="1" height="20"/>
<rect x="1480" y="620" width="2" height="1"/>
<rect x="1483" y="609" width="1.5" height="1" shape-rendering="auto"/>
<rect x="1487" y="572" width="1" height="29"/>
<rect x="1485" y="597" width="2" height="1"/>
<rect x="1488" y="574" width="1.5" height="1" shape-rendering="auto"/>
<rect x="1491" y="571" width="1" height="21"/>
<rect x="1489" y="580" width="2" height="1"/>
<rect x="1492" y="578" width="1.5" height="1" shape-rendering="auto"/>
<rect x="1496" y="567" width="1" height="16"/>
<rect x="1494" y="581" width="2" height="1"/>
<rect x="1497" y="574" width="1.5" height="1" shape-rendering="auto"/>
<rect x="1500" y="568" width="1" height="21"/>
<rect x="1498" y="574" width="2" height="1"/>
<rect x="1501" y="587" width="1.5" height="1" shape-rendering="auto"/>
<rect x="1505" y="589" width="1" height="21"/>
<rect x="1503" y="590" width="2" height="1"/>
<rect x="1506" y="608" width="1.5" height="1" shape-rendering="auto"/>
<rect x="1509" y="603" width="1" height="18"/>
<rect x="1507" y="605" width="2" height="1"/>
<rect x="1510" y="612" width="1.5" height="1" shape-rendering="auto"/>
<rect x="1514" y="606" width="1" height="10"/>
<rect x="1512" y="610" width="2" height="1"/>
<rect x="1515" y="613" width="1.5" height="1" shape-rendering="auto"/>
<rect x="1518" y="614" width="1" height="9"/>
<rect x="1516" y="616" width="2" height="1"/>
<rect x="1519" y="620" width="1.5" height="1" shape-rendering="auto"/>
<rect x="1523" y="621" width="1" height="13"/>
<rect x="1521" y="623" width="2" height="1"/>
<rect x="1524" y="631" width="1.5" height="1" shape-rendering="auto"/>
<rect x="1527" y="630" width="1" height="11"/>
<rect x="1525" y="631" width="2" height="1"/>
<rect x="1528" y="639" width="1.5" height="1" shape-rendering="auto"/>
<rect x="1532" y="640" width="1" height="8"/>
<rect x="1530" y="645" width="2" height="1"/>
<rect x="1533" y="645" width="1.5" height="1" shape-rendering="auto"/>
<rect x="1536" y="636" width="1" height="13"/>
<rect x="1534" y="645" width="2" height="1"/>
<rect x="1537" y="639" width="1.5" height="1" shape-rendering="auto"/>
<rect x="1541" y="641" width="1" height="13"/>
<rect x="1539" y="642" width="2" height="1"/>
<rect x="1542" y="652" width="1.5" height="1" shape-rendering="auto"/>
<rect x="1545" y="658" width="1" height="22"/>
<rect x="1543" y="658" width="2" height="1"/>
<rect x="1546" y="678" width="1.5" height="1" shape-rendering="auto"/>
<rect x="1550" y="680" width="1" height="13"/>
<rect x="1548" y="690" width="2" height="1"/>
<rect x="1551" y="683" width="1.5" height="1" shape-rendering="auto"/>
<rect x="1554" y="677" width="1" height="17"/>
<rect x="1552" y="682" width="2" height="1"/>
<rect x="1555" y="690" width="1.5" height="1" shape-rendering="auto"/>
<rect x="1559" y="690" width="1" height="12"/>
<rect x="1557" y="691" width="2" height="1"/>
<rect x="1560" y="694" width="1.5" height="1" shape-rendering="auto"/>
<rect x="1563" y="690" width="1" height="15"/>
<rect x="1561" y="702" width="2" height="1"/>
<rect x="1564" y="693" width="1.5" height="1" shape-rendering="auto"/>
<rect x="1568" y="665" width="1" height="26"/>
<rect x="1566" y="682" width="2" height="1"/>
<rect x="1569" y="682" width="1.5" height="1" shape-rendering="auto"/>
<rect x="1572" y="675" width="1" height="21"/>
<rect x="1570" y="680" width="2" height="1"/>
<rect x="1573" y="695" width="1.5" height="1" shape-rendering="auto"/>
<rect x="1577" y="694" width="1" height="9"/>
<rect x="1575" y="697" width="2" height="1"/>
<rect x="1578" y="696" width="1.5" height="1" shape-rendering="auto"/>
<rect x="1581" y="691" width="1" height="9"/>
<rect x="1579" y="695" width="2" height="1"/>
<rect x="1582" y="693" width="1.5" height="1" shape-rendering="auto"/>
<rect x="1586" y="690" width="1" height="9"/>
<rect x="1584" y="693" width="2" height="1"/>
<rect x="1587" y="694" width="1.5" height="1" shape-rendering="auto"/>
<rect x="1591" y="695" width="1" height="10"/>
<rect x="1589" y="696" width="2" height="1"/>
<rect x="1592" y="697" width="1.5" height="1" shape-rendering="auto"/>
<rect x="1595" y="702" width="1" height="16"/>
<rect x="1593" y="707" width="2" height="1"/>
<rect x="1596" y="708" width="1.5" height="1" shape-rendering="auto"/>
<rect x="1600" y="700" width="1" height="15"/>
<rect x="1598" y="707" width="2" height="1"/>
<rect x="1601" y="708" width="1.5" height="1" shape-rendering="auto"/>
<rect x="1604" y="712" width="1" height="6"/>
<rect x="1602" y="713" width="2" height="1"/>
<rect x="1605" y="715" width="1.5" height="1" shape-rendering="auto"/>
<rect x="1609" y="715" width="1" height="8"/>
<rect x="1607" y="716" width="2" height="1"/>
<rect x="1610" y="718" width="1.5" height="1" shape-rendering="auto"/>
<rect x="1613" y="696" width="1" height="15"/>
<rect x="1611" y="708" width="2" height="1"/>
<rect x="1614" y="697" width="1.5" height="1" shape-rendering="auto"/>
<rect x="1618" y="698" width="1" height="9"/>
<rect x="1616" y="702" width="2" height="1"/>
<rect x="1619" y="704" width="1.5" height="1" shape-rendering="auto"/>
<rect x="1622" y="700" width="1" height="7"/>
<rect x="1620" y="704" width="2" height="1"/>
<rect x="1623" y="702" width="1.5" height="1" shape-rendering="auto"/>
<rect x="1627" y="698" width="1" height="9"/>
<rect x="1625" y="702" width="2" height="1"/>
<rect x="1628" y="700" width="1.5" height="1" shape-rendering="auto"/>
<rect x="1631" y="687" width="1" height="13"/>
<rect x="1629" y="699" width="2" height="1"/>
<rect x="1632" y="694" width="1.5" height="1" shape-rendering="auto"/>
<rect x="1636" y="701" width="1" height="10"/>
<rect x="1634" y="707" width="2" height="1"/>
<rect x="1637" y="702" width="1.5" height="1" shape-rendering="auto"/>
<rect x="1640" y="696" width="1" height="8"/>
<rect x="1638" y="700" width="2" height="1"/>
<rect x="1641" y="697" width="1.5" height="1" shape-rendering="auto"/>
<rect x="1645" y="686" width="1" height="10"/>
<rect x="1643" y="694" width="2" height="1"/>
<rect x="1646" y="690" width="1.5" height="1" shape-rendering="auto"/>
<rect x="1649" y="684" width="1" height="10"/>
<rect x="1647" y="690" width="2" height="1"/>
<rect x="1650" y="689" width="1.5" height="1" shape-rendering="auto"/>
<rect x="1654" y="674" width="1" height="30"/>
<rect x="1652" y="690" width="2" height="1"/>
<rect x="1655" y="698" width="1.5" height="1" shape-rendering="auto"/>
<rect x="1658" y="690" width="1" height="10"/>
<rect x="1656" y="697" width="2" height="1"/>
<rect x="1659" y="697" width="1.5" height="1" shape-rendering="auto"/>
<rect x="1663" y="697" width="1" height="11"/>
<rect x="1661" y="698" width="2" height="1"/>
<rect x="1664" y="702" width="1.5" height="1" shape-rendering="auto"/>
<rect x="1667" y="708" width="1" height="13"/>
<rect x="1665" y="709" width="2" height="1"/>
<rect x="1668" y="711" width="1.5" height="1" shape-rendering="auto"/>
<rect x="1672" y="705" width="1" height="11"/>
<rect x="1670" y="711" width="2" height="1"/>
<rect x="1673" y="713" width="1.5" height="1" shape-rendering="auto"/>
</g>
<!-- trend lines -->
<g stroke="#222" stroke-width="1.1" fill="none">
<line x1="446" y1="431.6" x2="790.2" y2="588.2"/>
<line x1="396.4" y1="593" x2="767.7" y2="653.8"/>
<polyline points="1676.2,712 1681.5,736.6 1699.1,670.8 1735.7,758.1 1794.8,579.4"/>
</g>
<line x1="1039.6" y1="324.9" x2="1478" y2="324.9" stroke="#e03030" stroke-width="1.3"/>
<!-- wave labels -->
<text x="36" y="81.5" text-anchor="middle" fill="#000" font-size="23.5" font-weight="normal" letter-spacing="0.4">((2))</text>
<text x="158.7" y="633.3" text-anchor="middle" fill="#000" font-size="23.5" font-weight="normal" letter-spacing="0.4">((3))</text>
<text x="289.7" y="398" text-anchor="middle" fill="#000" font-size="23.5" font-weight="normal" letter-spacing="0.4">((4))</text>
<text x="375" y="592" text-anchor="middle" fill="#0808d8" font-size="23.5" font-weight="normal" letter-spacing="0.4">(1)</text>
<text x="454.8" y="421.8" text-anchor="middle" fill="#0808d8" font-size="23.5" font-weight="normal" letter-spacing="0.4">(2)</text>
<text x="586.2" y="644" text-anchor="middle" fill="#0808d8" font-size="23.5" font-weight="normal" letter-spacing="0.4">(3)</text>
<text x="647" y="511.4" text-anchor="middle" fill="#0808d8" font-size="23.5" font-weight="normal" letter-spacing="0.4">(4)</text>
<text x="746.2" y="670" text-anchor="middle" fill="#0808d8" font-size="23.5" font-weight="normal" letter-spacing="0.4">(5)</text>
<text x="745" y="694.8" text-anchor="middle" fill="#000" font-size="23.5" font-weight="normal" letter-spacing="0.4">((5))</text>
<text x="745.5999999999999" y="726" text-anchor="middle" fill="#e00000" font-size="32" font-weight="normal" letter-spacing="1.6" stroke="#e00000" stroke-width="0.3">III</text>
<text x="813" y="585.5" text-anchor="middle" fill="#000" font-size="23.5" font-weight="normal" letter-spacing="0.4">((A))</text>
<text x="842.5" y="683" text-anchor="middle" fill="#000" font-size="23.5" font-weight="normal" letter-spacing="0.4">((B))</text>
<text x="890" y="537" text-anchor="middle" fill="#0808d8" font-size="23.5" font-weight="normal" letter-spacing="0.4">(1)</text>
<text x="910" y="637" text-anchor="middle" fill="#0808d8" font-size="23.5" font-weight="normal" letter-spacing="0.4">(2)</text>
<text x="1040.5" y="272.7" text-anchor="middle" fill="#e00000" font-size="31.5" font-weight="normal" stroke="#e00000" stroke-width="0.3">IV</text>
<text x="1040.2" y="293.9" text-anchor="middle" fill="#000" font-size="23.5" font-weight="normal" letter-spacing="0.4">((C))</text>
<text x="1040.7" y="317" text-anchor="middle" fill="#0808d8" font-size="23.5" font-weight="normal" letter-spacing="0.4">(5)</text>
<text x="1020.9" y="343.9" text-anchor="middle" fill="#0808d8" font-size="23.5" font-weight="normal" letter-spacing="0.4">(3)</text>
<text x="1031.9" y="440" text-anchor="middle" fill="#0808d8" font-size="23.5" font-weight="normal" letter-spacing="0.4">(4)</text>
<text x="1131" y="496.6" text-anchor="middle" fill="#0808d8" font-size="23.5" font-weight="normal" letter-spacing="0.4">(2)</text>
<text x="1115" y="591.9" text-anchor="middle" fill="#0808d8" font-size="23.5" font-weight="normal" letter-spacing="0.4">(1)</text>
<text x="1214.3" y="573" text-anchor="middle" fill="#0808d8" font-size="23.5" font-weight="normal" letter-spacing="0.4">(4)</text>
<text x="1201" y="650.3" text-anchor="middle" fill="#0808d8" font-size="23.5" font-weight="normal" letter-spacing="0.4">(3)</text>
<text x="1334.6" y="601.3" text-anchor="middle" fill="#0808d8" font-size="23.5" font-weight="normal" letter-spacing="0.4">(A)</text>
<text x="1317.8" y="676.4" text-anchor="middle" fill="#0808d8" font-size="23.5" font-weight="normal" letter-spacing="0.4">(5)</text>
<text x="1317.8" y="698" text-anchor="middle" fill="#000" font-size="23.5" font-weight="normal" letter-spacing="0.4">((1))</text>
<text x="1416.8" y="680" text-anchor="middle" fill="#0808d8" font-size="23.5" font-weight="normal" letter-spacing="0.4">(B)</text>
<text x="1503" y="537.8" text-anchor="middle" fill="#000" font-size="23.5" font-weight="normal" letter-spacing="0.4">((2))</text>
<text x="1500.8" y="562.3" text-anchor="middle" fill="#0808d8" font-size="23.5" font-weight="normal" letter-spacing="0.4">(C)</text>
<text x="1699.1" y="665.6" text-anchor="middle" fill="#000" font-size="23.5" font-weight="normal" letter-spacing="0.4">((4))</text>
<text x="1683.6" y="757.3" text-anchor="middle" fill="#000" font-size="23.5" font-weight="normal" letter-spacing="0.4">((3))</text>
<text x="1736.8" y="781" text-anchor="middle" fill="#000" font-size="23.5" font-weight="normal" letter-spacing="0.4">((5))</text>
<text x="1735.1" y="809.3" text-anchor="middle" fill="#e00000" font-size="30.5" font-weight="normal" stroke="#e00000" stroke-width="0.5">V</text>
<text x="1736.6" y="832.7" text-anchor="middle" fill="#0808d8" font-size="31" font-weight="normal" stroke="#0808d8" stroke-width="0.3">(c)</text>
<text x="1736.6" y="865.6" text-anchor="middle" fill="#000" font-size="32" font-weight="normal" textLength="63.4" lengthAdjust="spacingAndGlyphs">((II))</text>
<!-- note box -->
<rect x="310.2" y="129.1" width="274" height="70.6" fill="#fff" stroke="#000" stroke-width="2.4"/>
<g font-size="11.4" font-weight="bold" fill="#000" lengthAdjust="spacingAndGlyphs">
<text x="315.3" y="145.1" textLength="254" lengthAdjust="spacingAndGlyphs">We prefer to trade only in direction of Green / Red</text>
<text x="315.3" y="160.1" textLength="263.5" lengthAdjust="spacingAndGlyphs">Right side tags entering at Blue boxes and we don't</text>
<text x="315.8" y="175.2" textLength="243.2" lengthAdjust="spacingAndGlyphs">like trading Turning up / down arrows or against</text>
<text x="315.8" y="190.3" textLength="161.8" lengthAdjust="spacingAndGlyphs">the direction of Right side tags.</text>
</g>
<!-- turning down -->
<rect x="1315.3" y="289.5" width="161.2" height="30.6" fill="#fff" stroke="#000" stroke-width="3.2"/>
<text x="1322" y="311.6" font-size="22" font-weight="bold" fill="#000" textLength="69.6" lengthAdjust="spacingAndGlyphs">Turning</text><text x="1393" y="311.6" font-size="22" font-weight="bold" fill="#000" textLength="54" lengthAdjust="spacingAndGlyphs">Down</text>
<path d="M1448.3 302.6 L1453.4 297 L1466 310 M1455.5 310.3 H1466.3 V299.3" fill="none" stroke="#000" stroke-width="2.8" stroke-linejoin="miter"/>
<text class="serif" x="1481.8" y="322.1" font-size="16" fill="#000" textLength="36.3" lengthAdjust="spacingAndGlyphs">16.18</text>
<text x="1218.8" y="343.1" font-size="16" fill="#000" textLength="114.6" lengthAdjust="spacingAndGlyphs">Invalidation level</text>
<!-- price tags -->
<path d="M1828.2 710 L1837.5 700.3 H1908 V720 H1837.5 Z" fill="#000"/>
<text x="1837.3" y="717" font-size="19.5" font-weight="bold" fill="#fff">5.65</text>
<path d="M1829 867 L1835 860.5 H1908 V873.5 H1835 Z" fill="#666"/>
<text x="1834.6" y="871.8" font-size="12.3" fill="#e8e8e8">1.17</text>
<!-- date tag -->
<rect x="457" y="881" width="70" height="22.4" fill="#666"/>
<text x="459.5" y="897.3" font-size="13" fill="#fff">02/09/2023</text>
<!-- bottom-left -->
<text x="8.9" y="870.7" font-size="9.4" fill="#444">© eSignal, 2024</text>
<text x="6.8" y="893.3" font-size="11" fill="#c4c4c4">Dyn</text>
<rect x="31" y="882" width="14" height="14" fill="#4a4a4a"/>
<path d="M34.3 894 V888.5 M33.2 889 H36.4 M34.3 888.5 Q34.3 884.6 37 884.6 Q39.6 884.6 39.6 888" fill="none" stroke="#ddd" stroke-width="1.3"/>
<circle cx="40" cy="891.4" r="2.7" fill="#d8d8d8"/>
<path d="M40 889.8 V891.5 H41.6" stroke="#4a4a4a" stroke-width="0.8" fill="none"/>
<!-- date stamp -->
<rect x="1576" y="879" width="322" height="23" fill="#fff"/>
<rect x="1600" y="877" width="1" height="3" fill="#333"/>
<text x="1577.3" y="897.7" font-size="20.4" fill="#000" textLength="319.3" lengthAdjust="spacingAndGlyphs">Elliottwave Forecast 02.26.2024</text>
</svg>
</body></html>
